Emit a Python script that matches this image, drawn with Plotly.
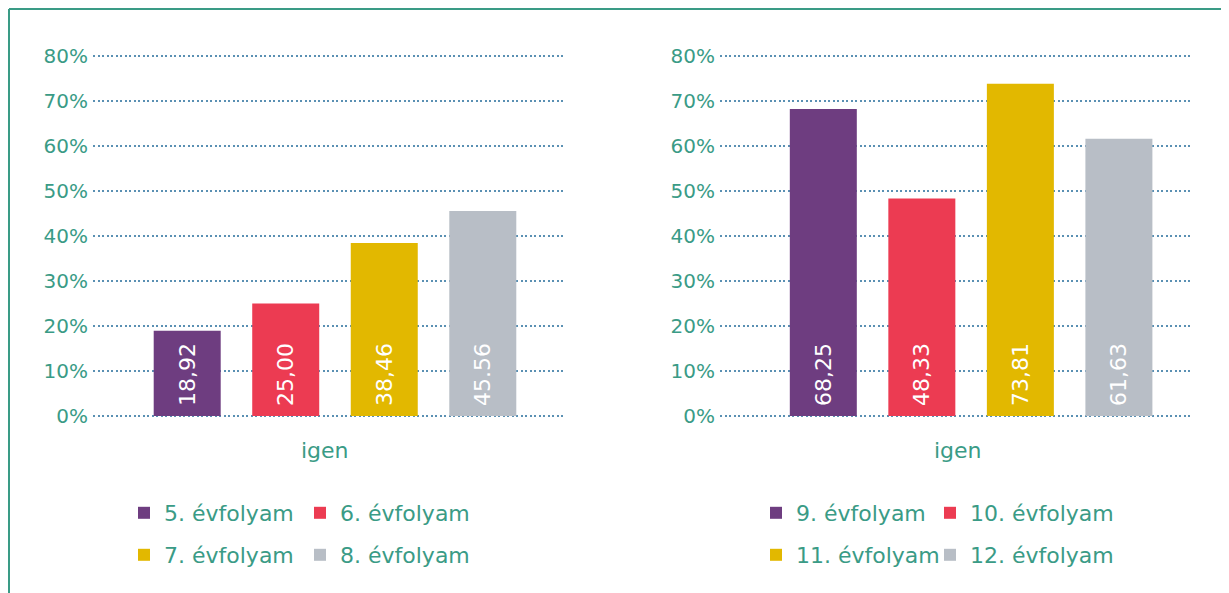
import plotly.graph_objects as go

W, H = 1229, 593
OFF = 8  # page body margin offset

category = ["igen"]
left_series = ["5. évfolyam", "6. évfolyam", "7. évfolyam", "8. évfolyam"]
left_values = [18.92, 25.00, 38.46, 45.56]
left_labels = ["18,92", "25,00", "38,46", "45.56"]
right_series = ["9. évfolyam", "10. évfolyam", "11. évfolyam", "12. évfolyam"]
right_values = [68.25, 48.33, 73.81, 61.63]
right_labels = ["68,25", "48,33", "73,81", "61,63"]
y_ticks = [0, 10, 20, 30, 40, 50, 60, 70, 80]
y_ticktext = [f"{t}%" for t in y_ticks]

colors = ["#6e3d80", "#ec3b52", "#e2b800", "#b8bec6"]
TEAL = "#3a9b86"
GRID = "#5a90b3"
FONT = "DejaVu Sans"


def px(x):
    return (x - OFF) / W


def py(y):
    return 1 - (y - OFF) / H


fig = go.Figure()

# one legend per entry so each can be placed exactly
legend_ids = ["legend"] + [f"legend{k}" for k in range(2, 9)]

for panel, (names, vals, labs) in enumerate([(left_series, left_values, left_labels),
                                              (right_series, right_values, right_labels)]):
    xa = "x" if panel == 0 else "x2"
    ya = "y" if panel == 0 else "y2"
    for i, (n, v, lab) in enumerate(zip(names, vals, labs)):
        fig.add_trace(go.Bar(
            x=category, y=[v], name=n, text=[lab],
            texttemplate="\u00a0%{text}",
            textposition="inside", insidetextanchor="start", textangle=-90,
            insidetextfont=dict(color="white", size=22, family=FONT),
            marker=dict(color=colors[i], line=dict(width=0)),
            xaxis=xa, yaxis=ya,
            legend=legend_ids[panel * 4 + i],
            hoverinfo="skip",
        ))

# y pixel mapping: 0% at page y=416, 80% at page y=56 (4.5 px per %)
y_lo, y_hi = -1, 81
ydom = [py(416 + 4.5 * (0 - y_lo)), py(416 - 4.5 * y_hi)]

yaxis_common = dict(range=[y_lo, y_hi], tickvals=y_ticks, ticktext=y_ticktext,
                    showgrid=True, gridcolor=GRID, griddash="2px,2.5px", gridwidth=2,
                    zeroline=False, showline=False, ticks="",
                    tickfont=dict(color=TEAL, size=20, family=FONT),
                    ticklabelstandoff=4, domain=ydom, fixedrange=True, automargin=False)
xaxis_common = dict(showgrid=False, zeroline=False, showline=False, ticks="",
                    showticklabels=False, fixedrange=True, automargin=False)

fig.update_layout(
    width=W, height=H,
    margin=dict(l=0, r=0, t=0, b=0, autoexpand=False),
    paper_bgcolor="white", plot_bgcolor="white",
    barmode="group", bargap=0.165, bargroupgap=0.32,
    xaxis=dict(domain=[px(93), px(565)], range=[-0.5 - 0.0127, 0.5 - 0.0127], **xaxis_common),
    xaxis2=dict(domain=[px(720), px(1192)], range=[-0.5 - 0.032, 0.5 - 0.032], anchor="y2", **xaxis_common),
    yaxis=dict(anchor="x", **yaxis_common),
    yaxis2=dict(anchor="x2", **yaxis_common),
    showlegend=True,
    font=dict(family=FONT, color=TEAL),
)

legend_common = dict(orientation="h", xanchor="left", yanchor="middle",
                     font=dict(color=TEAL, size=22, family=FONT),
                     bgcolor="rgba(0,0,0,0)", itemclick=False, itemdoubleclick=False)
# (square left edge, row centre) in page pixels
legend_pos = [(139, 513), (315, 513), (139, 555), (315, 555),
              (771, 513), (945, 513), (771, 555), (945, 555)]
for lid, (sx, ly) in zip(legend_ids, legend_pos):
    fig.update_layout(**{lid: dict(x=px(sx - 15), y=py(ly), **legend_common)})

# category labels under each panel
for cx in (325, 958):
    fig.add_annotation(x=px(cx), y=py(450), xref="paper", yref="paper",
                       xanchor="center", yanchor="middle",
                       text=category[0], showarrow=False,
                       font=dict(color=TEAL, size=22, family=FONT))

# frame lines (top and left)
fig.add_shape(type="line", xref="paper", yref="paper", x0=px(9), x1=1, y0=py(9), y1=py(9),
              line=dict(color=TEAL, width=2))
fig.add_shape(type="line", xref="paper", yref="paper", x0=px(9), x1=px(9), y0=0, y1=py(9),
              line=dict(color=TEAL, width=2))

fig.write_html("out.html")
